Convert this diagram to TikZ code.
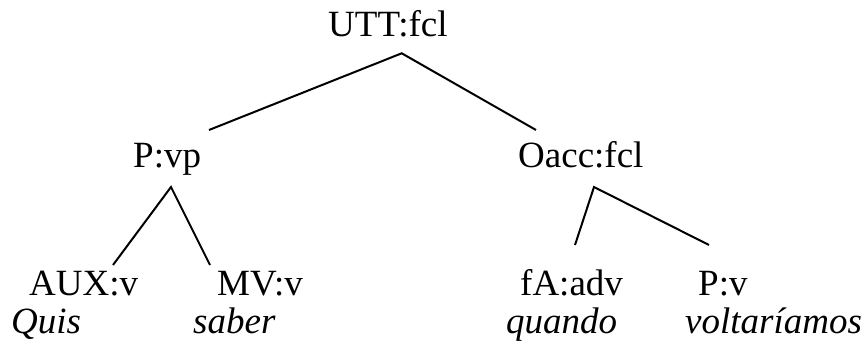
\documentclass[tikz,border=0pt]{standalone}
\usepackage{fontspec}
\setmainfont{Liberation Serif}
\begin{document}
\begin{tikzpicture}[x=1pt,y=-1pt,
  lbl/.style={anchor=base west,inner sep=0pt,font=\fontsize{37}{44}\selectfont},
  wrd/.style={lbl,font=\fontsize{37}{44}\selectfont\itshape},
  edge/.style={line width=2pt}]
\useasboundingbox (0,0) rectangle (864,345);
\node[lbl] (utt) at (328,37) {UTT:fcl};
\node[lbl] (pvp) at (133,167) {P:vp};
\node[lbl] (oacc) at (518,167) {Oacc:fcl};
\node[lbl] (aux) at (29,295) {AUX:v};
\node[lbl] (mv) at (217,295) {MV:v};
\node[lbl] (fa) at (520,295) {fA:adv};
\node[lbl] (pv) at (698,295) {P:v};
\node[wrd] (quis) at (11,333) {Quis};
\node[wrd] (saber) at (193,333) {saber};
\node[wrd] (quando) at (506,333) {quando};
\node[wrd] (volt) at (685,333) {voltaríamos};
\coordinate (r0) at (401.7,53.3);
\coordinate (r1) at (209,130);
\coordinate (r2) at (536,130);
\coordinate (p0) at (171,187);
\coordinate (p1) at (113,265);
\coordinate (p2) at (210,265);
\coordinate (o0) at (594,187);
\coordinate (o1) at (575,245);
\coordinate (o2) at (709,245);
\draw[edge] (r1) -- (r0) -- (r2);
\draw[edge] (p1) -- (p0) -- (p2);
\draw[edge] (o1) -- (o0) -- (o2);
\end{tikzpicture}
\end{document}
